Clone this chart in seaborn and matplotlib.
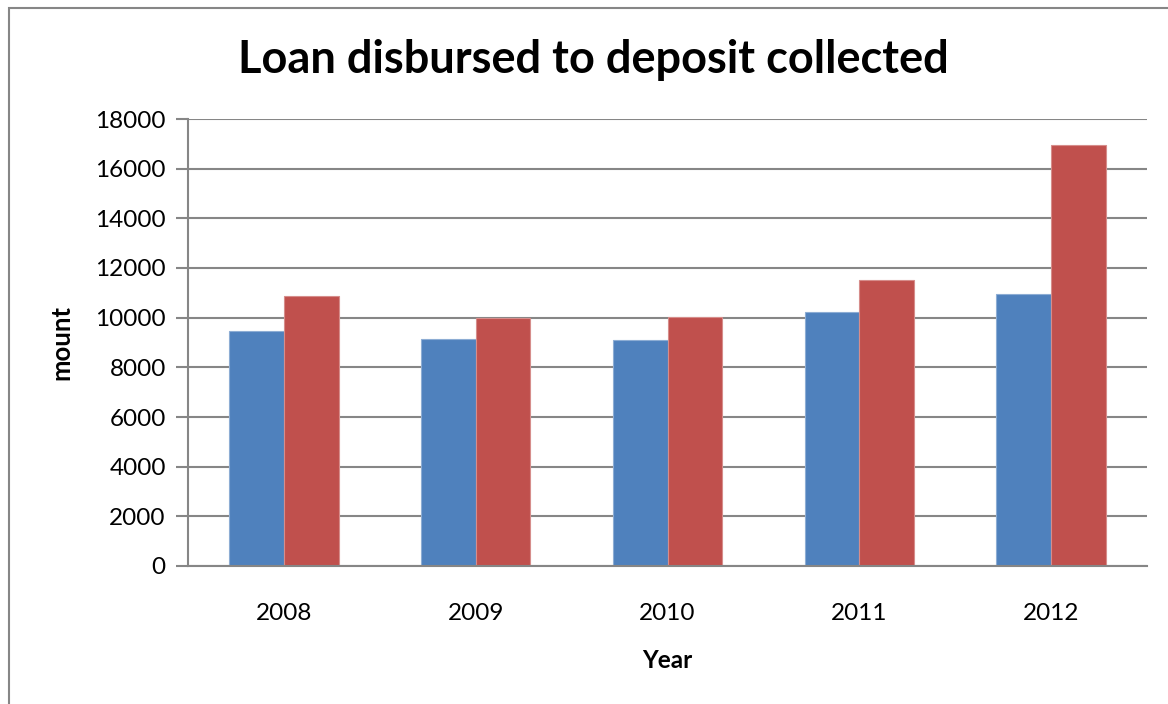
import matplotlib
matplotlib.use("Agg")
import matplotlib.pyplot as plt
import matplotlib.colors as mcolors
from matplotlib.patches import Rectangle
import seaborn as sns
import pandas as pd

years = ["2008", "2009", "2010", "2011", "2012"]
loan_disbursed = [9470, 9140, 9110, 10240, 10960]
deposit_collected = [10880, 10000, 10040, 11520, 16960]
series_names = ["Loan disbursed", "Deposit collected"]
y_ticks = [0, 2000, 4000, 6000, 8000, 10000, 12000, 14000, 16000, 18000]

df = pd.DataFrame({
    "Year": years * 2,
    "Amount": loan_disbursed + deposit_collected,
    "Series": [series_names[0]] * len(years) + [series_names[1]] * len(years),
})

sns.set_style("white")
plt.rcParams["font.family"] = ["Lato", "DejaVu Sans"]
plt.rcParams["text.color"] = "black"
plt.rcParams["axes.labelcolor"] = "black"

fig = plt.figure(figsize=(11.68, 7.04), dpi=100)
ax = fig.add_axes([188 / 1168, 1 - 566 / 704, (1147 - 188) / 1168, (566 - 119) / 704])

palette = {series_names[0]: "#4F81BD", series_names[1]: "#C0504D"}
sns.barplot(data=df, x="Year", y="Amount", hue="Series", palette=palette,
            width=0.57, gap=0, saturation=1, ax=ax, legend=False)

for p in ax.patches:
    fc = mcolors.to_rgb(p.get_facecolor())
    light = tuple(c + (1 - c) * 0.35 for c in fc)
    p.set_edgecolor(light)
    p.set_linewidth(0.8)

ax.set_ylim(0, 18000)
ax.set_xlim(-0.5, len(years) - 0.5)
ax.set_yticks(y_ticks)
ax.set_yticklabels([str(v) for v in y_ticks])
ax.yaxis.grid(True, color="#868686", linewidth=1.5)
ax.set_axisbelow(True)

for side in ["top", "right"]:
    ax.spines[side].set_visible(False)
for side in ["left", "bottom"]:
    ax.spines[side].set_color("#868686")
    ax.spines[side].set_linewidth(1.5)

ax.tick_params(axis="y", which="both", left=True, length=9, width=1.5,
               color="#868686", labelsize=17.5, pad=7, labelcolor="black")
ax.tick_params(axis="x", bottom=False, labelsize=17.5, pad=23, labelcolor="black")

ax.set_xlabel("Year", fontsize=17.5, fontweight="bold", labelpad=18, color="black")
ax.set_ylabel("mount", fontsize=18.5, fontweight="bold", labelpad=16, color="black")

fig.text(593 / 1168, 1 - 60 / 704, "Loan disbursed to deposit collected",
         ha="center", va="center", fontsize=32.5, fontweight="bold", color="black")

# outer chart-area frame
fig.patches.append(Rectangle((9 / 1168, -0.01), 1.2, 1 - 8 / 704 + 0.01,
                             transform=fig.transFigure, fill=False,
                             edgecolor="#868686", linewidth=1.5))

fig.savefig("out.png", dpi=100)
